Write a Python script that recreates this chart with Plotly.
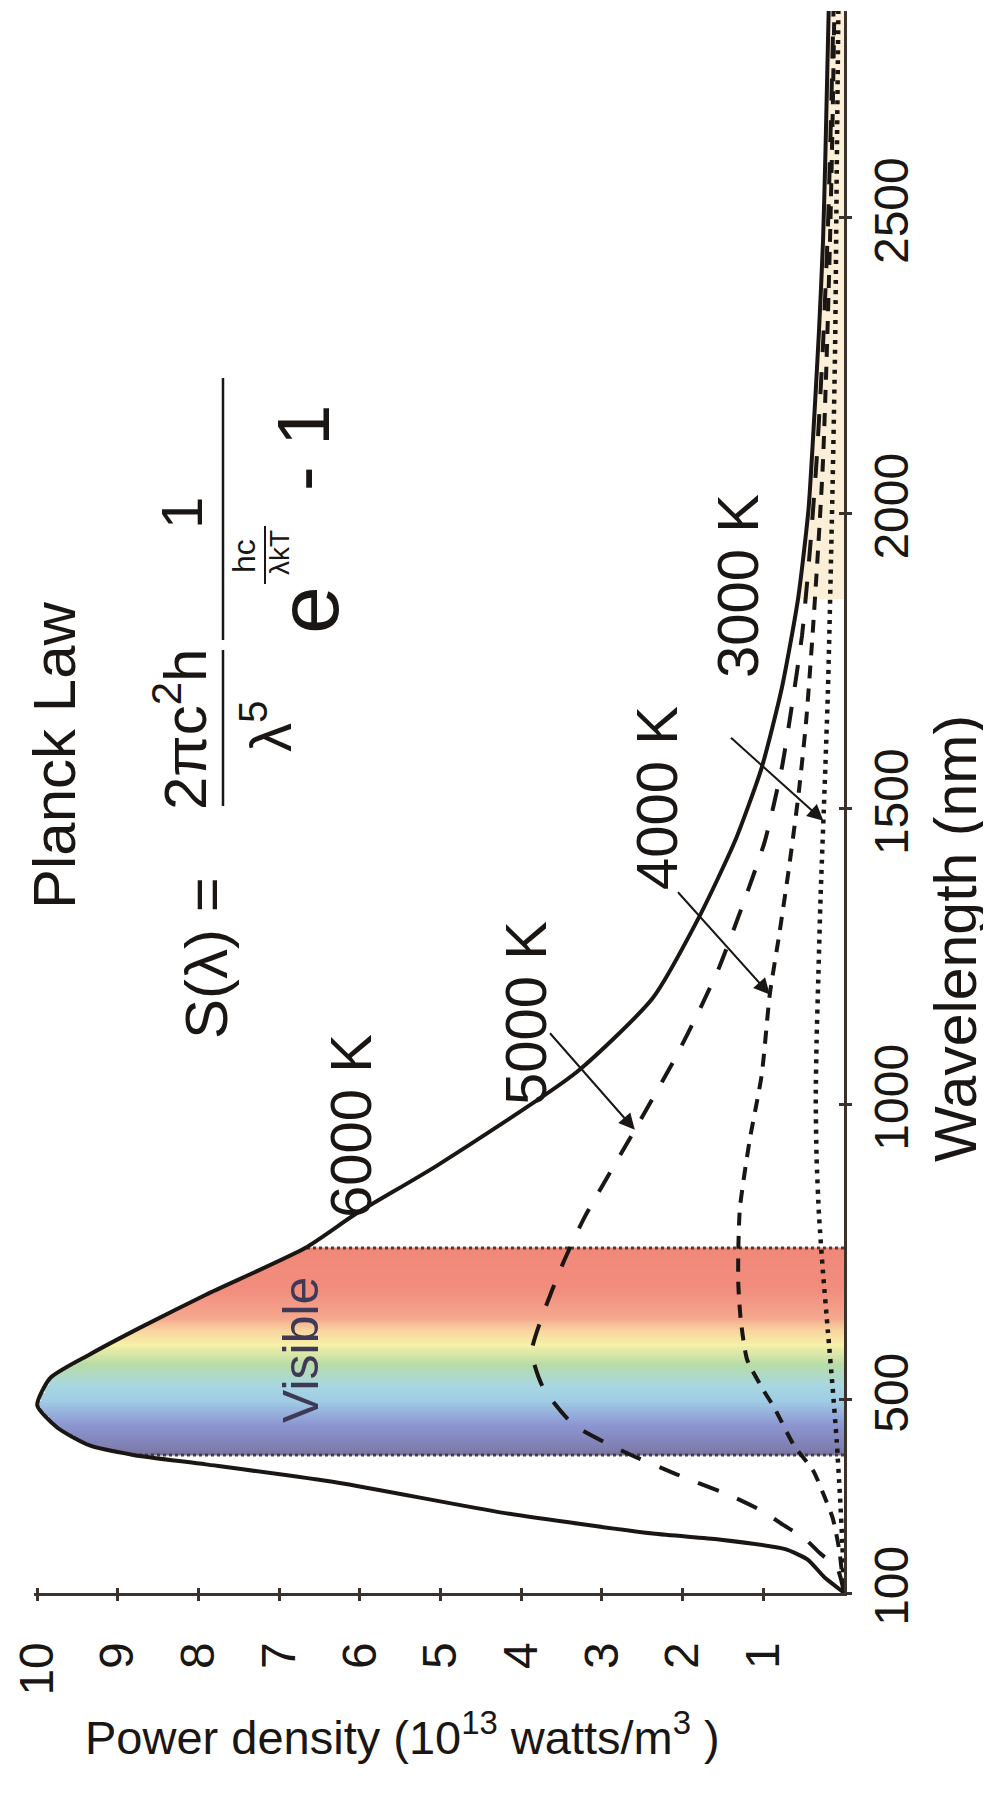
import numpy as np
import plotly.graph_objects as go

# ---------------- data ----------------
WL_6000 = [174, 201, 230, 248, 264, 274, 309, 360, 391, 407, 423, 453, 491, 537, 577, 622, 678, 757, 815,
           897, 1054, 1180, 1316, 1446, 1570, 1705, 1855, 2007, 2160, 2309, 2460, 2610, 2850]
PD_6000 = [0.0, 0.25, 0.45, 0.74, 1.55, 2.37, 4.22, 6.27, 7.91, 8.81, 9.35, 9.75, 10.0, 9.84, 9.35, 8.73, 7.91,
           6.68, 6.05, 5.04, 3.32, 2.37, 1.80, 1.35, 1.02, 0.77, 0.57, 0.44, 0.37, 0.31, 0.26, 0.23, 0.19]

WL_5000 = [174, 214, 241, 267, 289, 311, 337, 375, 412, 458, 521, 581, 638, 729, 808, 960, 1079, 1163, 1231,
           1332, 1446, 1570, 1671, 1794, 1942, 2089, 2285, 2481, 2678, 2850]
PD_5000 = [0.0, 0.08, 0.30, 0.50, 0.76, 1.00, 1.39, 2.09, 2.72, 3.35, 3.73, 3.87, 3.75, 3.49, 3.22, 2.58, 2.09,
           1.78, 1.55, 1.27, 0.98, 0.77, 0.65, 0.52, 0.42, 0.34, 0.26, 0.20, 0.16, 0.13]

WL_4000 = [174, 247, 300, 339, 380, 423, 486, 517, 568, 636, 696, 754, 825, 939, 1050, 1186, 1290, 1402, 1529,
           1647, 1794, 1942, 2089, 2285, 2481, 2678, 2850]
PD_4000 = [0.0, 0.06, 0.14, 0.25, 0.38, 0.62, 0.86, 1.00, 1.20, 1.28, 1.31, 1.31, 1.29, 1.17, 1.02, 0.92, 0.80,
           0.68, 0.56, 0.47, 0.39, 0.32, 0.26, 0.21, 0.17, 0.14, 0.12]

WL_3000 = [174, 255, 337, 430, 519, 617, 715, 813, 911, 1009, 1107, 1206, 1353, 1500, 1696, 1991, 2285, 2580, 2850]
PD_3000 = [0.0, 0.02, 0.05, 0.09, 0.14, 0.20, 0.26, 0.31, 0.34, 0.35, 0.34, 0.32, 0.29, 0.25, 0.20, 0.15, 0.11,
           0.09, 0.07]

CURVE_LABELS = ["6000 K", "5000 K", "4000 K", "3000 K"]

VISIBLE_RANGE_NM = [407, 757]
VISIBLE_STOPS_NM = [407, 418, 458, 498, 525, 560, 593, 616, 638, 684, 757]
VISIBLE_COLORS = ["#77739f", "#7f7eb0", "#8d96d2", "#9fcce4", "#a8d7e2", "#b8dca6",
                  "#f6f0a8", "#f9d6a0", "#f5a88e", "#f28e7e", "#f08878"]

WL_AXIS_MIN = 173.4          # the corner of the picture, labelled "100"
WL_AXIS_MAX = 2850
WL_TICKS = [WL_AXIS_MIN, 500, 1000, 1500, 2000, 2500]
WL_TICK_TEXT = ["100", "500", "1000", "1500", "2000", "2500"]
PD_TICKS = [1, 2, 3, 4, 5, 6, 7, 8, 9, 10]

TAIL_START_NM = 1855

# ---------------- geometry ----------------
W, H = 991, 1796
X0, X1 = 26, 836       # pixel extent of plot area (x)
Y0, Y1 = 3, 1585       # pixel extent of plot area (y)
XR = [10.04, 0]
YR = [WL_AXIS_MIN, WL_AXIS_MAX]

def px(xp):  # pixel -> paper x
    return (xp - X0) / (X1 - X0)

def py(yp):  # pixel -> paper y
    return (Y1 - yp) / (Y1 - Y0)

def dx(xp):  # pixel -> data x
    return XR[0] + (XR[1] - XR[0]) * (xp - X0) / (X1 - X0)

def dy(yp):  # pixel -> data y
    return YR[0] + (YR[1] - YR[0]) * (Y1 - yp) / (Y1 - Y0)

INK = "#1a1613"
AXIS = "#3b322b"
FONT = "Liberation Sans"

fig = go.Figure()

# light tan sliver in the far tail
tail_w = [w for w in WL_6000 if w >= TAIL_START_NM]
tail_p = [p for w, p in zip(WL_6000, PD_6000) if w >= TAIL_START_NM]
fig.add_trace(go.Scatter(x=tail_p + [0, 0], y=tail_w + [tail_w[-1], tail_w[0]], fill="toself",
                         fillcolor="#fcefd8", line=dict(width=0), mode="lines",
                         hoverinfo="skip", showlegend=False))

# visible band (gradient clipped by the 6000 K curve)
band_lam = np.arange(VISIBLE_RANGE_NM[0], VISIBLE_RANGE_NM[1] + 1, 2.0)
band_p = np.arange(0.025, 10.05, 0.05)
edge = np.interp(band_lam, WL_6000, PD_6000)
z = np.where(band_p[None, :] <= edge[:, None], band_lam[:, None], np.nan)
lo, hi = VISIBLE_RANGE_NM
cscale = [[(s - lo) / (hi - lo), c] for s, c in zip(VISIBLE_STOPS_NM, VISIBLE_COLORS)]
fig.add_trace(go.Heatmap(x=band_p, y=band_lam, z=z, colorscale=cscale, zmin=lo, zmax=hi,
                         showscale=False, hoverinfo="skip", zsmooth=False))

# dotted band edges
for wl in VISIBLE_RANGE_NM:
    pe = float(np.interp(wl, WL_6000, PD_6000))
    fig.add_trace(go.Scatter(x=[0, pe], y=[wl, wl], mode="lines",
                             line=dict(color="#4a3f38", width=3, dash="3px,3px"),
                             hoverinfo="skip", showlegend=False))

# curves
fig.add_trace(go.Scatter(x=PD_3000, y=WL_3000, mode="lines", name=CURVE_LABELS[3],
                         line=dict(color=INK, width=4.5, dash="4px,6px", shape="spline", smoothing=0.6),
                         showlegend=False))
fig.add_trace(go.Scatter(x=PD_4000, y=WL_4000, mode="lines", name=CURVE_LABELS[2],
                         line=dict(color=INK, width=4, dash="13px,10px", shape="spline", smoothing=0.6),
                         showlegend=False))
fig.add_trace(go.Scatter(x=PD_5000, y=WL_5000, mode="lines", name=CURVE_LABELS[1],
                         line=dict(color=INK, width=4, dash="22px,20px", shape="spline", smoothing=0.6),
                         showlegend=False))
fig.add_trace(go.Scatter(x=PD_6000, y=WL_6000, mode="lines", name=CURVE_LABELS[0],
                         line=dict(color=INK, width=4, shape="spline", smoothing=0.6),
                         showlegend=False))
# empty trace for the overlay axes (ticks on the other side)
fig.add_trace(go.Scatter(x=[], y=[], xaxis="x2", yaxis="y2", showlegend=False))

annotations = []

def text(xp, yp, s, size, angle=-90, color=INK):
    annotations.append(dict(x=px(xp), y=py(yp), xref="paper", yref="paper", text=s, showarrow=False,
                            textangle=angle, xanchor="center", yanchor="middle",
                            font=dict(family=FONT, size=size, color=color)))

# curve labels
text(342, 1118, CURVE_LABELS[0], 58)
text(517, 1005, CURVE_LABELS[1], 58)
text(648, 790, CURVE_LABELS[2], 58)
text(729, 578, CURVE_LABELS[3], 58)
text(293, 1342, "Visible", 50, color="#3e3a55")

# arrows: tail (pixel) -> head on a curve
arrows = [(540, 1023, 957, WL_5000, PD_5000),
          (668, 882, 1186, WL_4000, PD_4000),
          (721, 728, 1480, WL_3000, PD_3000)]
for tx, ty, wl, cw, cp in arrows:
    annotations.append(dict(x=float(np.interp(wl, cw, cp)), y=wl, xref="x", yref="y",
                            ax=dx(tx), ay=dy(ty), axref="x", ayref="y", text=" ", showarrow=True,
                            font=dict(size=2), arrowhead=2, arrowsize=1.6, arrowwidth=2,
                            arrowcolor=INK, standoff=0))

# Planck law formula
text(46, 748, "Planck Law", 60)
text(198, 950, "S(λ) =", 60)
text(173, 721, "2πc<sup>2</sup>h", 60)
text(258, 718, "λ<sup>5</sup>", 58)
text(173, 505, "1", 58)
text(300, 602, "e", 86)
text(236, 548, "hc", 32)
text(271, 545, "λkT", 28)
text(295, 440, "- 1", 74)

# titles
text(948, 930, "Wavelength (nm)", 59)
text(394, 1726, "Power density (10<sup>13</sup> watts/m<sup>3</sup> )", 47, angle=0)

shapes = [
    dict(type="line", xref="paper", yref="paper", x0=px(215), x1=px(215), y0=py(642), y1=py(798),
         line=dict(color=INK, width=2.5)),
    dict(type="line", xref="paper", yref="paper", x0=px(215), x1=px(215), y0=py(370), y1=py(632),
         line=dict(color=INK, width=2.5)),
    dict(type="line", xref="paper", yref="paper", x0=px(257), x1=px(257), y0=py(518), y1=py(576),
         line=dict(color=INK, width=2)),
]

axis_common = dict(showgrid=False, zeroline=False, showline=True, linecolor=AXIS, linewidth=3,
                   tickcolor=AXIS, tickwidth=3, ticklen=5, ticks="outside",
                   tickfont=dict(family=FONT, size=48, color=INK), tickangle=-90)

fig.update_layout(
    width=W, height=H,
    margin=dict(l=X0, r=W - X1, t=Y0, b=H - Y1, pad=0),
    paper_bgcolor="white", plot_bgcolor="white",
    showlegend=False,
    xaxis=dict(range=XR, tickvals=PD_TICKS, ticktext=[str(v) for v in PD_TICKS],
               ticklabelstandoff=22, **axis_common),
    yaxis=dict(range=YR, side="right", tickvals=WL_TICKS, ticktext=WL_TICK_TEXT,
               ticklabelstandoff=-2, **axis_common),
    xaxis2=dict(overlaying="x", matches="x", anchor="y", side="bottom", showgrid=False, zeroline=False,
                showline=False, ticks="inside", ticklen=5, tickwidth=3, tickcolor=AXIS,
                tickvals=PD_TICKS, showticklabels=False),
    yaxis2=dict(overlaying="y", matches="y", anchor="x", side="right", showgrid=False, zeroline=False,
                showline=False, ticks="inside", ticklen=5, tickwidth=3, tickcolor=AXIS,
                tickvals=WL_TICKS, showticklabels=False),
    annotations=annotations,
    shapes=shapes,
)

fig.write_html("out.html")
